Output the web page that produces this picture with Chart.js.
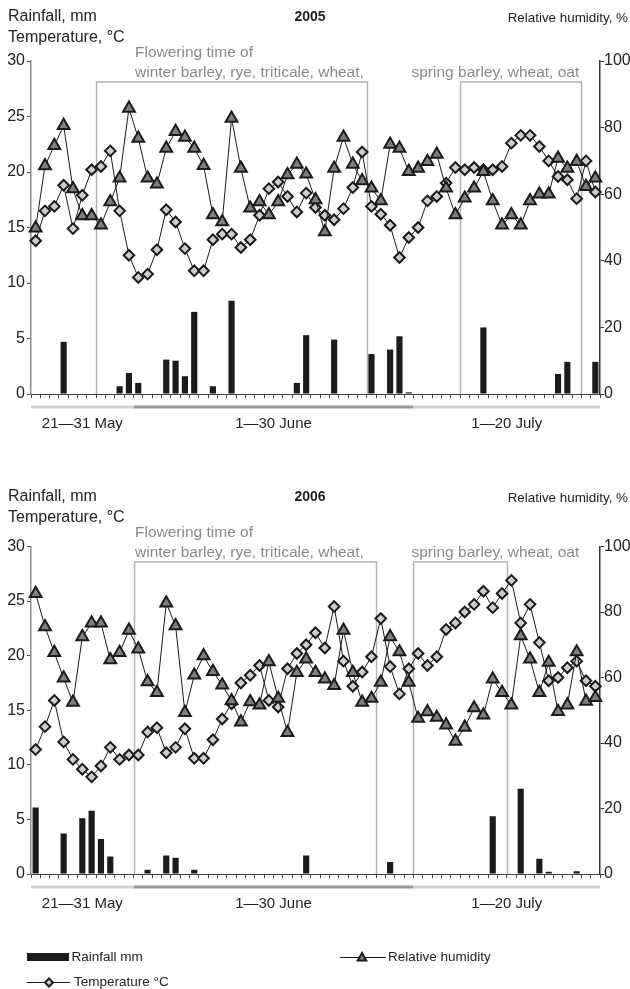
<!DOCTYPE html>
<html>
<head>
<meta charset="utf-8">
<script src="https://cdn.jsdelivr.net/npm/chart.js@4/dist/chart.umd.min.js"></script>
<style>
  html, body { margin: 0; padding: 0; background: #fff; }
  #wrap { position: relative; width: 630px; height: 989px; overflow: hidden; }
  canvas { position: absolute; left: 0; }
</style>
</head>
<body>
<div id="wrap">
  <canvas id="c2005" width="630" height="470" style="top:0;width:630px;height:470px"></canvas>
  <canvas id="c2006" width="630" height="509" style="top:480px;width:630px;height:509px"></canvas>
</div>
<script>
// ---- Observation period: 21 May – 20 July ----
const periods = [['May', 21, 31], ['June', 1, 30], ['July', 1, 20]];
const periodLabels = ['21\u201431 May', '1\u201430 June', '1\u201420 July'];
const days = [];
periods.forEach(([m, a, b]) => { for (let d = a; d <= b; d++) days.push(d + ' ' + m); });

// ---- 2005 ----
const rain2005 = [
  0, 0, 0, 4.7, 0, 0, 0, 0, 0, 0.7,
  1.9, 1.0, 0, 0, 3.1, 3.0, 1.6, 7.4, 0, 0.7,
  0, 8.4, 0, 0, 0, 0, 0, 0, 1.0, 5.3,
  0, 0, 4.9, 0, 0, 0, 3.6, 0, 4.0, 5.2,
  0.15, 0, 0, 0, 0, 0, 0, 0, 6.0, 0,
  0, 0, 0, 0, 0, 0, 1.8, 2.9, 0, 0, 2.9
];
const temp2005 = [
  13.8, 16.5, 16.9, 18.8, 14.9, 17.9, 20.2, 20.5, 21.9, 16.5,
  12.5, 10.5, 10.8, 13.0, 16.6, 15.5, 13.1, 11.1, 11.1, 13.9,
  14.4, 14.4, 13.2, 13.9, 16.1, 18.5, 19.1, 17.8, 16.4, 18.1,
  16.8, 16.1, 15.7, 16.7, 18.6, 21.8, 16.9, 16.2, 15.2, 12.3,
  14.1, 15.0, 17.4, 17.8, 19.0, 20.4, 20.2, 20.4, 20.2, 20.2,
  20.5, 22.6, 23.3, 23.3, 22.3, 21.0, 19.6, 19.3, 17.6, 21.0, 18.2
];
const humidity2005 = [
  49.8, 68.5, 74.6, 80.6, 61.6, 53.5, 53.5, 50.7, 57.7, 64.8,
  85.8, 76.8, 64.8, 63.0, 73.8, 78.8, 77.1, 73.8, 68.6, 53.8,
  51.7, 82.8, 67.8, 55.8, 57.7, 53.8, 57.7, 65.8, 69.0, 66.0,
  58.3, 48.7, 67.8, 77.1, 69.0, 64.0, 61.8, 58.0, 75.0, 73.8,
  66.8, 67.8, 69.8, 72.0, 61.8, 53.8, 58.8, 61.8, 66.8, 58.0,
  50.7, 53.8, 50.7, 58.0, 60.0, 60.0, 70.8, 67.8, 69.8, 62.3, 64.8
];
// flowering windows: first and last day index
const flowering2005 = [[7, 35], [46, 58]];

// ---- 2006 ----
const rain2006 = [
  6.1, 0, 0, 3.7, 0, 5.1, 5.8, 3.2, 1.6, 0,
  0, 0, 0.4, 0, 1.7, 1.5, 0, 0.4, 0, 0,
  0, 0, 0, 0, 0, 0, 0, 0, 0, 1.7,
  0, 0, 0, 0, 0, 0, 0, 0, 1.1, 0,
  0, 0, 0, 0, 0, 0, 0, 0, 0, 5.3,
  0, 0, 7.8, 0, 1.4, 0.2, 0, 0, 0.25, 0, 0
];
const temp2006 = [
  11.4, 13.5, 15.9, 12.1, 10.5, 9.6, 8.9, 9.9, 11.6, 10.5,
  10.9, 10.9, 13.0, 13.4, 11.1, 11.6, 13.3, 10.6, 10.6, 12.3,
  14.2, 15.6, 17.5, 18.2, 19.1, 15.9, 15.3, 18.8, 20.2, 21.0,
  22.1, 20.7, 24.5, 19.5, 17.2, 18.5, 19.9, 23.4, 19.0, 16.5,
  18.8, 20.2, 19.1, 19.9, 22.4, 23.0, 24.0, 24.7, 25.9, 24.4,
  25.7, 26.9, 23.0, 24.7, 21.2, 17.7, 18.0, 18.9, 19.5, 17.7, 17.2
];
const humidity2006 = [
  85.6, 75.5, 67.6, 59.8, 52.4, 72.4, 76.6, 76.6, 65.4, 67.6,
  74.4, 68.7, 58.7, 55.4, 82.7, 75.8, 49.3, 60.7, 66.6, 61.8,
  57.7, 52.9, 46.4, 52.6, 51.6, 64.8, 53.6, 43.2, 61.5, 65.6,
  61.5, 59.5, 57.5, 74.4, 61.5, 52.4, 53.6, 58.5, 72.4, 67.8,
  58.5, 47.5, 49.5, 47.8, 45.5, 40.5, 44.8, 50.7, 48.5, 59.5,
  55.4, 51.6, 72.7, 65.6, 55.4, 64.6, 49.6, 51.6, 67.8, 52.7, 53.9
];
const flowering2006 = [[11, 36], [41, 50]];

// ---- shared text ----
const leftTitle = ['Rainfall, mm', 'Temperature, \u00b0C'];
const rightTitle = 'Relative humidity, %';
const floweringText = ['Flowering time of', 'winter barley, rye, triticale, wheat,', 'spring barley, wheat, oat'];
const legendText = ['Rainfall mm', 'Temperature \u00b0C', 'Relative humidity'];

const FONT = '"Liberation Sans", Arial, Helvetica, sans-serif';
const INK = '#1b1b1b';
const DIAMOND_FILL = '#cdcdcd';
const TRIANGLE_FILL = '#7e7e7e';
const BOX_GREY = '#b3b3b3';
const TEXT_GREY = '#8a8a8a';

function drawDiamond(ctx, x, y, r) {
  ctx.beginPath();
  ctx.moveTo(x, y - r); ctx.lineTo(x + r, y); ctx.lineTo(x, y + r); ctx.lineTo(x - r, y);
  ctx.closePath();
  ctx.fillStyle = DIAMOND_FILL; ctx.fill();
  ctx.lineWidth = 2; ctx.strokeStyle = INK; ctx.stroke();
}
function drawTriangle(ctx, x, y, r) {
  ctx.beginPath();
  ctx.moveTo(x, y - r);
  ctx.lineTo(x + r * 0.866, y + r * 0.5);
  ctx.lineTo(x - r * 0.866, y + r * 0.5);
  ctx.closePath();
  ctx.fillStyle = TRIANGLE_FILL; ctx.fill();
  ctx.lineWidth = 2; ctx.strokeStyle = INK; ctx.stroke();
}

// Decorations: titles, flowering windows, month bands and (optionally) legend
const decor = {
  id: 'decor',
  beforeDatasetsDraw(chart, args, opts) {
    const ctx = chart.ctx, xs = chart.scales.x, a = chart.chartArea;
    ctx.save();
    ctx.strokeStyle = BOX_GREY;
    ctx.lineWidth = 1.5;
    opts.windows.forEach(([s, e]) => {
      const x0 = Math.round(xs.getPixelForValue(s - 0.5)) + 0.5;
      const x1 = Math.round(xs.getPixelForValue(e + 0.5)) + 0.5;
      ctx.beginPath();
      ctx.moveTo(x0, a.bottom);
      ctx.lineTo(x0, opts.boxTop);
      ctx.lineTo(x1, opts.boxTop);
      ctx.lineTo(x1, a.bottom);
      ctx.stroke();
    });
    ctx.restore();
  },
  afterDraw(chart, args, opts) {
    const ctx = chart.ctx, xs = chart.scales.x, a = chart.chartArea;
    ctx.save();
    ctx.textBaseline = 'middle';

    // axis titles and year
    ctx.fillStyle = '#222';
    ctx.font = '16px ' + FONT;
    ctx.textAlign = 'left';
    ctx.fillText(leftTitle[0], 8, 17);
    ctx.fillText(leftTitle[1], 8, 38);
    ctx.font = 'bold 14px ' + FONT;
    ctx.textAlign = 'center';
    ctx.fillText(opts.year, 310, 17);
    ctx.font = '13.4px ' + FONT;
    ctx.textAlign = 'right';
    ctx.fillText(rightTitle, 628, 18);

    // flowering captions
    ctx.fillStyle = TEXT_GREY;
    ctx.font = '15.5px ' + FONT;
    ctx.textAlign = 'left';
    ctx.fillText(floweringText[0], 135, 52.5);
    ctx.fillText(floweringText[1], 135, 72.5);
    ctx.fillText(floweringText[2], 411.5, 72.5);

    // month bands under the axis
    let start = 0;
    periods.forEach(([m, d0, d1], k) => {
      const n = d1 - d0 + 1;
      const x0 = xs.getPixelForValue(start - 0.5);
      const x1 = xs.getPixelForValue(start + n - 0.5);
      ctx.fillStyle = k === 1 ? '#9a9a9a' : '#d2d2d2';
      ctx.fillRect(x0, a.bottom + 11.5, x1 - x0, 3);
      ctx.fillStyle = '#222';
      ctx.font = '15px ' + FONT;
      ctx.textAlign = 'center';
      ctx.fillText(periodLabels[k], (x0 + x1) / 2, a.bottom + 29.5);
      start += n;
    });

    // legend
    if (opts.legend) {
      const L = opts.legend;
      ctx.font = '13.5px ' + FONT;
      ctx.textAlign = 'left';
      ctx.fillStyle = INK;
      ctx.fillRect(27, L.row1 - 4, 42, 8);
      ctx.fillStyle = '#222';
      ctx.fillText(legendText[0], 71.5, L.row1);

      ctx.strokeStyle = INK; ctx.lineWidth = 1;
      ctx.beginPath(); ctx.moveTo(27, L.row2 + 0.5); ctx.lineTo(70, L.row2 + 0.5); ctx.stroke();
      drawDiamond(ctx, 49, L.row2 + 0.5, 4);
      ctx.fillStyle = '#222';
      ctx.fillText(legendText[1], 74, L.row2);

      ctx.strokeStyle = INK; ctx.lineWidth = 1;
      ctx.beginPath(); ctx.moveTo(340, L.row1 + 0.5); ctx.lineTo(386, L.row1 + 0.5); ctx.stroke();
      drawTriangle(ctx, 362, L.row1 + 1, 5);
      ctx.fillStyle = '#222';
      ctx.fillText(legendText[2], 388, L.row1);
    }
    ctx.restore();
  }
};

function makeChart(id, year, rain, temp, hum, windows, cfg) {
  return new Chart(document.getElementById(id), {
    type: 'bar',
    data: {
      labels: days,
      datasets: [
        {
          type: 'line', label: legendText[2], data: hum, yAxisID: 'yR',
          borderColor: INK, borderWidth: 1, tension: 0,
          pointStyle: 'triangle', pointRadius: 6.8,
          pointBackgroundColor: TRIANGLE_FILL, pointBorderColor: INK, pointBorderWidth: 2,
          order: 1
        },
        {
          type: 'line', label: legendText[1], data: temp, yAxisID: 'yL',
          borderColor: INK, borderWidth: 1, tension: 0,
          pointStyle: 'rectRot', pointRadius: 5.3,
          pointBackgroundColor: DIAMOND_FILL, pointBorderColor: INK, pointBorderWidth: 2,
          order: 2
        },
        {
          type: 'bar', label: legendText[0], data: rain, yAxisID: 'yL',
          backgroundColor: INK, borderWidth: 0,
          barPercentage: 0.66, categoryPercentage: 1,
          order: 3
        }
      ]
    },
    options: {
      responsive: false,
      devicePixelRatio: 1,
      animation: false,
      events: [],
      layout: { padding: { top: cfg.top, left: 0, right: 0, bottom: 0 } },
      plugins: {
        legend: { display: false },
        tooltip: { enabled: false },
        decor: { year: year, windows: windows, boxTop: 82, legend: cfg.legend }
      },
      scales: {
        x: {
          offset: true,
          ticks: { display: false, autoSkip: false },
          grid: { display: true, offset: true, drawOnChartArea: false, drawTicks: true, tickLength: 4, color: '#444', lineWidth: 1 },
          border: { display: true, color: '#444', width: 1 },
          afterFit(s) { s.height = cfg.xHeight; }
        },
        yL: {
          position: 'left', min: 0, max: 30,
          ticks: { stepSize: 5, color: '#222', padding: 2, font: { family: FONT, size: 16 } },
          grid: { drawOnChartArea: false, drawTicks: true, tickLength: 4, color: '#444' },
          border: { display: true, color: '#8c8c8c', width: 1.5 },
          afterFit(s) { s.width = 31; }
        },
        yR: {
          position: 'right', min: 0, max: 100,
          ticks: { stepSize: 20, color: '#222', padding: 0, font: { family: FONT, size: 16 } },
          grid: { drawOnChartArea: false, drawTicks: true, tickLength: 4, color: '#333' },
          border: { display: true, color: '#333', width: 1.5 },
          afterFit(s) { s.width = 30; }
        }
      }
    },
    plugins: [decor]
  });
}

makeChart('c2005', '2005', rain2005, temp2005, humidity2005, flowering2005,
  { top: 61, xHeight: 76, legend: null });
makeChart('c2006', '2006', rain2006, temp2006, humidity2006, flowering2006,
  { top: 66.5, xHeight: 115, legend: { row1: 477, row2: 502 } });
</script>
</body>
</html>
